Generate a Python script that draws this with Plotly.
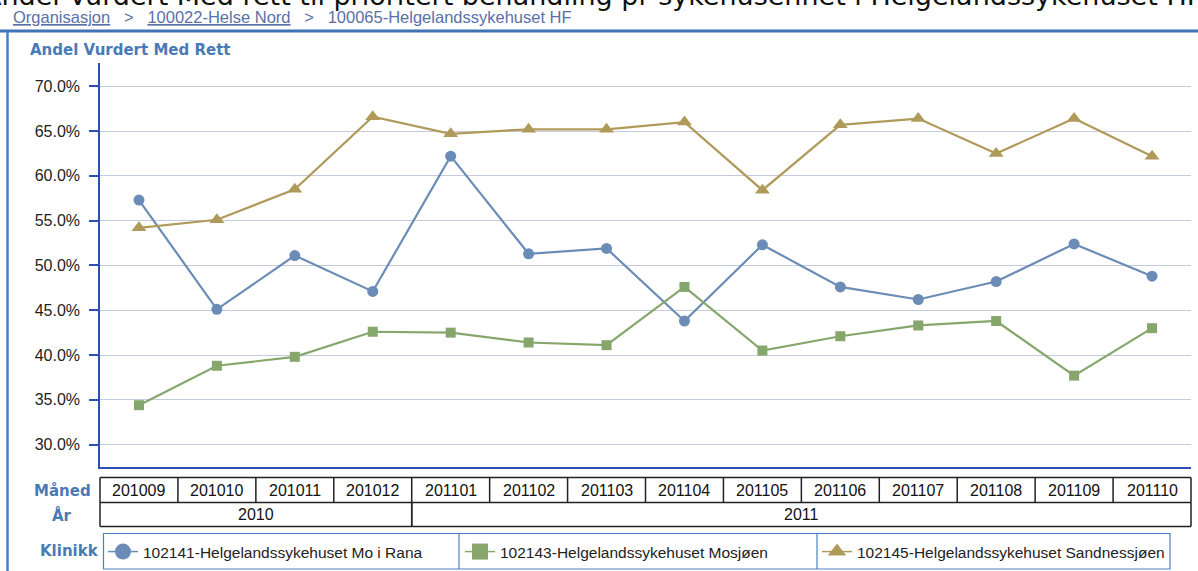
import plotly.graph_objects as go

# ---------------- data ----------------
months = ["201009", "201010", "201011", "201012", "201101", "201102", "201103",
          "201104", "201105", "201106", "201107", "201108", "201109", "201110"]
mo_i_rana = [57.3, 45.1, 51.1, 47.1, 62.2, 51.3, 51.9, 43.8, 52.3, 47.6, 46.2, 48.2, 52.4, 48.8]
mosjoen = [34.4, 38.8, 39.8, 42.6, 42.5, 41.4, 41.1, 47.6, 40.5, 42.1, 43.3, 43.8, 37.7, 43.0]
sandnessjoen = [54.2, 55.1, 58.5, 66.6, 64.7, 65.2, 65.2, 66.0, 58.4, 65.7, 66.4, 62.5, 66.4, 62.2]
series_names = ["102141-Helgelandssykehuset Mo i Rana",
                "102143-Helgelandssykehuset Mosjøen",
                "102145-Helgelandssykehuset Sandnessjøen"]
y_ticks = [30, 35, 40, 45, 50, 55, 60, 65, 70]

# ---------------- styles ----------------
W, H = 1198, 571
L, R, T, B = 100, 1191, 63, 467
BLUE_LBL = "#4a7ab6"
AXIS = "#2d4fb4"
colors = ["#6a8cb6", "#86a66c", "#b09a5a"]
symbols = ["circle", "square", "triangle-up"]
sizes = [11, 10, 13]
series = [mo_i_rana, mosjoen, sandnessjoen]
BODY = "Liberation Sans, Arial, sans-serif"
BOLD = "DejaVu Sans, Verdana, sans-serif"

def px(x):
    return (x - L) / (R - L)

def py(y):
    return (B - y) / (B - T)

n = len(months)
def idx_to_paper(v):
    return (v + 0.5) / n

fig = go.Figure()
for name, vals, c, s, sz in zip(series_names, series, colors, symbols, sizes):
    fig.add_trace(go.Scatter(x=months, y=vals, mode="lines+markers", name=name,
                             line=dict(color=c, width=2.2),
                             marker=dict(color=c, symbol=s, size=sz),
                             showlegend=False, hoverinfo="x+y+name"))
for name, c, s in zip(series_names, colors, symbols):
    fig.add_trace(go.Scatter(x=[None], y=[None], mode="lines+markers", name=name,
                             line=dict(color=c, width=1.5),
                             marker=dict(color=c, symbol=s, size=17),
                             showlegend=True))

shapes = []
# top rule and panel left border
shapes.append(dict(type="line", xref="paper", yref="paper", x0=px(0), x1=px(W),
                   y0=py(31), y1=py(31), line=dict(color="#3f73b4", width=3)))
shapes.append(dict(type="line", xref="paper", yref="paper", x0=px(7.5), x1=px(7.5),
                   y0=py(31), y1=py(H + 5), line=dict(color="#4a80c2", width=2.5)))

# table under the axis
ty0, ty1, ty2 = 477.5, 502.5, 526.5
TC = "#222222"
for yy in (ty0, ty1, ty2):
    shapes.append(dict(type="line", xref="paper", yref="paper",
                       x0=idx_to_paper(-0.5), x1=idx_to_paper(n - 0.5),
                       y0=py(yy), y1=py(yy), line=dict(color=TC, width=1.5)))
for i in range(n + 1):
    shapes.append(dict(type="line", xref="paper", yref="paper",
                       x0=idx_to_paper(i - 0.5), x1=idx_to_paper(i - 0.5),
                       y0=py(ty0), y1=py(ty1), line=dict(color=TC, width=1.5)))
years = []
for i, m in enumerate(months):
    yv = m[:4]
    if years and years[-1][0] == yv:
        years[-1][2] = i
    else:
        years.append([yv, i, i])
for yv, a, b in years:
    for edge in (a - 0.5, b + 0.5):
        shapes.append(dict(type="line", xref="paper", yref="paper",
                           x0=idx_to_paper(edge), x1=idx_to_paper(edge),
                           y0=py(ty1), y1=py(ty2), line=dict(color=TC, width=1.5)))

# legend box
lg_x0, lg_x1, lg_y0, lg_y1 = 103.5, 1170, 533.5, 569
lg_div = [459, 817]
LB = "#4a80c2"
shapes.append(dict(type="rect", xref="paper", yref="paper", x0=px(lg_x0), x1=px(lg_x1),
                   y0=py(lg_y1), y1=py(lg_y0), line=dict(color=LB, width=1.2)))
for d in lg_div:
    shapes.append(dict(type="line", xref="paper", yref="paper", x0=px(d), x1=px(d),
                       y0=py(lg_y1), y1=py(lg_y0), line=dict(color=LB, width=1.2)))

ann = []
cell_font = dict(family=BODY, size=16, color="#111")
for i, m in enumerate(months):
    ann.append(dict(x=i, y=py((ty0 + ty1) / 2), xref="x", yref="paper", text=m,
                    xanchor="center", yanchor="middle",
                    showarrow=False, font=cell_font))
for yv, a, b in years:
    ann.append(dict(x=(a + b) / 2, y=py((ty1 + ty2) / 2), xref="x", yref="paper", text=yv,
                    xanchor="center", yanchor="middle",
                    showarrow=False, font=cell_font))

lbl_font = dict(family=BOLD, size=15, color=BLUE_LBL)
ann.append(dict(x=px(62), y=py(491), xref="paper", yref="paper", text="<b>Måned</b>",
                xanchor="center", yanchor="middle", showarrow=False, font=lbl_font))
ann.append(dict(x=px(62), y=py(515), xref="paper", yref="paper", text="<b>År</b>",
                xanchor="center", yanchor="middle", showarrow=False, font=lbl_font))
ann.append(dict(x=px(101), y=py(551), xref="paper", yref="paper", text="<b>Klinikk</b>",
                xanchor="right", yanchor="middle", showarrow=False, font=lbl_font))
ann.append(dict(x=px(28), y=py(50), xref="paper", yref="paper",
                text="<b>Andel Vurdert Med Rett</b>", xanchor="left", yanchor="middle",
                showarrow=False, font=lbl_font))

# breadcrumb
sep = "&nbsp;&nbsp;&nbsp;&gt;&nbsp;&nbsp;&nbsp;"
ann.append(dict(x=px(11), y=py(17), xref="paper", yref="paper", xanchor="left",
                yanchor="middle",
                text="<u>Organisasjon</u>" + sep + "<u>100022-Helse Nord</u>" + sep
                     + "100065-Helgelandssykehuset HF",
                showarrow=False, font=dict(family=BODY, size=16.5, color="#5a70a8")))
# page title, cut off at the top of the view
ann.append(dict(x=px(-19), y=py(13), xref="paper", yref="paper", xanchor="left",
                yanchor="bottom",
                text="Andel Vurdert Med rett til prioritert behandling pr sykehusenhet i Helgelandssykehuset HF",
                showarrow=False, font=dict(family="DejaVu Sans, Verdana, sans-serif",
                                           size=27, color="#111")))

fig.update_layout(
    width=W, height=H, autosize=False,
    margin=dict(l=L, r=W - R, t=T, b=H - B, pad=0, autoexpand=False),
    paper_bgcolor="white", plot_bgcolor="white",
    shapes=shapes, annotations=ann,
    showlegend=True,
    legend=dict(orientation="h", x=px(103), xanchor="left", y=py(535), yanchor="top",
                bgcolor="rgba(0,0,0,0)", borderwidth=0,
                font=dict(family=BODY, size=15.5, color="#222"),
                entrywidth=312, entrywidthmode="pixels", itemclick=False,
                itemdoubleclick=False),
    xaxis=dict(type="category", range=[-0.5, n - 0.5], showticklabels=False,
               showgrid=False, ticks="", showline=True, linecolor=AXIS, linewidth=1.5,
               zeroline=False, fixedrange=True),
    yaxis=dict(range=[27.5, 72.6], tickvals=y_ticks,
               ticktext=[f"{v:.1f}%" for v in y_ticks],
               showgrid=True, gridcolor="#c6cade", gridwidth=1.3,
               showline=True, linecolor=AXIS, linewidth=1.5,
               ticks="outside", ticklen=9, tickcolor=AXIS, tickwidth=1.5,
               ticklabelstandoff=6,
               tickfont=dict(family=BODY, size=16, color="#222"),
               zeroline=False, fixedrange=True),
)

fig.write_html("out.html", config={"displayModeBar": False},
               post_script="document.body.style.margin='0';document.body.style.overflow='hidden';")
